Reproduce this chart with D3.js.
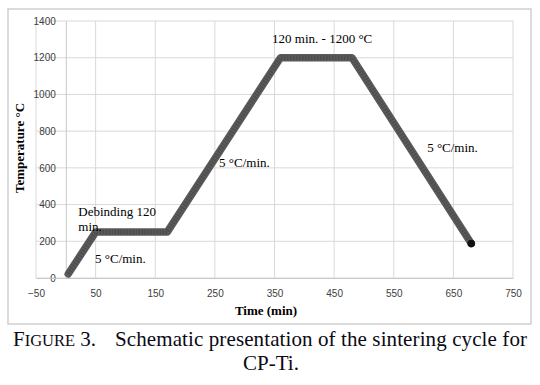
<!DOCTYPE html>
<html>
<head>
<meta charset="utf-8">
<script src="https://cdn.jsdelivr.net/npm/d3@7"></script>
<style>
  body { margin: 0; background: #fff; }
  svg { display: block; }
</style>
</head>
<body>
<div id="chart"></div>
<script>
const FRAME_WIDTH = 540;
const FRAME_HEIGHT = 385;
const MARGINS = {left: 36, right: 27, top: 21, bottom: 107};
const VIS_WIDTH = FRAME_WIDTH - MARGINS.left - MARGINS.right;
const VIS_HEIGHT = FRAME_HEIGHT - MARGINS.top - MARGINS.bottom;

// sintering cycle (time in min, temperature in °C)
const TIME = [4, 50, 170, 360, 480, 680];
const TEMP = [22, 250, 250, 1200, 1200, 188];

const X_TICKS = [-50, 50, 150, 250, 350, 450, 550, 650, 750];
const Y_TICKS = [0, 200, 400, 600, 800, 1000, 1200, 1400];

// annotation texts with their anchor (time, temp)
const NOTE_TEXT = ["120 min. - 1200 °C", "5 °C/min.", "5 °C/min.", "Debinding 120", "min.", "5 °C/min."];
const NOTE_TIME = [346, 606, 257, 21, 21, 49];
const NOTE_TEMP = [1282, 688, 605, 338, 256, 82];

const svg = d3.select("#chart")
  .append("svg")
    .attr("width", FRAME_WIDTH)
    .attr("height", FRAME_HEIGHT);

// chart frame
svg.append("rect")
  .attr("x", 8).attr("y", 9)
  .attr("width", 523).attr("height", 315)
  .attr("fill", "#fff")
  .attr("stroke", "#d0d0d0")
  .attr("stroke-width", 1.5);

const X_SCALE = d3.scaleLinear().domain([-50, 750]).range([MARGINS.left, MARGINS.left + VIS_WIDTH]);
const Y_SCALE = d3.scaleLinear().domain([0, 1400]).range([MARGINS.top + VIS_HEIGHT, MARGINS.top]);

// grid
svg.append("g")
  .selectAll("line")
  .data(Y_TICKS)
  .join("line")
    .attr("x1", X_SCALE(-50)).attr("x2", X_SCALE(750))
    .attr("y1", d => Y_SCALE(d)).attr("y2", d => Y_SCALE(d))
    .attr("stroke", "#d9d9d9").attr("stroke-width", 1);

svg.append("g")
  .selectAll("line")
  .data(X_TICKS)
  .join("line")
    .attr("x1", d => X_SCALE(d)).attr("x2", d => X_SCALE(d))
    .attr("y1", Y_SCALE(0)).attr("y2", Y_SCALE(1400))
    .attr("stroke", "#d9d9d9").attr("stroke-width", 1);

// y axis at time = 0, x axis at temp = 0
const yAxis = svg.append("g")
  .attr("transform", "translate(" + X_SCALE(0) + ",0)")
  .call(d3.axisLeft(Y_SCALE).tickValues(Y_TICKS).tickSize(0).tickPadding(10).tickFormat(d3.format("d")));
yAxis.select(".domain").attr("stroke", "#c8c8c8");

const xAxis = svg.append("g")
  .attr("transform", "translate(0," + Y_SCALE(0) + ")")
  .call(d3.axisBottom(X_SCALE).tickValues(X_TICKS).tickSize(0).tickPadding(12).tickFormat(d3.format("d")));
xAxis.select(".domain").attr("stroke", "#c8c8c8");

svg.selectAll(".tick text")
  .attr("font-family", "'Liberation Sans', Arial, sans-serif")
  .attr("font-size", "10px")
  .attr("fill", "#404040");

// the cycle
const points = TIME.map((t, i) => [t, TEMP[i]]);
const line = d3.line().x(d => X_SCALE(d[0])).y(d => Y_SCALE(d[1]));

svg.append("path")
  .datum(points)
  .attr("d", line)
  .attr("fill", "none")
  .attr("stroke", "#5b5b5b")
  .attr("stroke-width", 7.5)
  .attr("stroke-linejoin", "round")
  .attr("stroke-linecap", "round");

svg.append("path")
  .datum(points)
  .attr("d", line)
  .attr("fill", "none")
  .attr("stroke", "#444")
  .attr("stroke-width", 5)
  .attr("stroke-dasharray", "1.5 1.5")
  .attr("opacity", 0.6);

svg.append("circle")
  .attr("cx", X_SCALE(TIME[TIME.length - 1]))
  .attr("cy", Y_SCALE(TEMP[TEMP.length - 1]))
  .attr("r", 3.8)
  .attr("fill", "#111");

// annotations
svg.append("g")
  .selectAll("text")
  .data(NOTE_TEXT)
  .join("text")
    .attr("x", (d, i) => X_SCALE(NOTE_TIME[i]))
    .attr("y", (d, i) => Y_SCALE(NOTE_TEMP[i]))
    .attr("font-family", "'Liberation Serif', 'Times New Roman', serif")
    .attr("font-size", "13px")
    .attr("fill", "#000")
    .text(d => d);

// axis titles
svg.append("text")
  .attr("x", 266).attr("y", 315)
  .attr("text-anchor", "middle")
  .attr("font-family", "'Liberation Serif', 'Times New Roman', serif")
  .attr("font-weight", "bold")
  .attr("font-size", "13px")
  .text("Time (min)");

svg.append("text")
  .attr("transform", "translate(24," + 148 + ") rotate(-90)")
  .attr("text-anchor", "middle")
  .attr("font-family", "'Liberation Serif', 'Times New Roman', serif")
  .attr("font-weight", "bold")
  .attr("font-size", "13px")
  .text("Temperature °C");

// caption
const cap = svg.append("text")
  .attr("x", 13).attr("y", 346)
  .attr("font-family", "'Liberation Serif', 'Times New Roman', serif")
  .attr("font-size", "21px")
  .attr("fill", "#0a0a14");
cap.append("tspan").text("F");
cap.append("tspan").attr("font-size", "16.5px").text("IGURE");
cap.append("tspan").text(" 3.");
cap.append("tspan").attr("x", 115).attr("textLength", 412).attr("lengthAdjust", "spacing")
  .text("Schematic presentation of the sintering cycle for");

svg.append("text")
  .attr("x", 271).attr("y", 370)
  .attr("text-anchor", "middle")
  .attr("font-family", "'Liberation Serif', 'Times New Roman', serif")
  .attr("font-size", "21px")
  .attr("fill", "#0a0a14")
  .text("CP-Ti.");
</script>
</body>
</html>
